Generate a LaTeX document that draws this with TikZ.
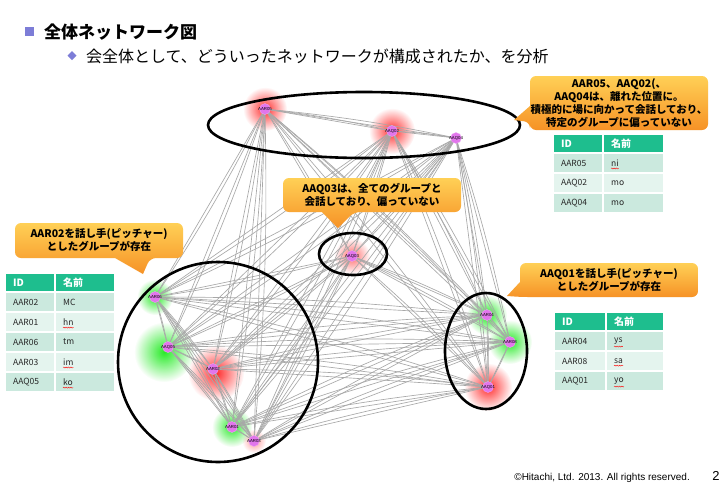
\documentclass[tikz,border=0pt]{standalone}
\usepackage{fontspec}
\newfontfamily\jp{Noto Sans CJK JP}
\newfontfamily\ftr{Liberation Sans}
\usetikzlibrary{fadings,decorations.pathmorphing}
\tikzfading[name=glowfade, inner color=transparent!0, outer color=transparent!100]
\definecolor{pnk}{RGB}{226,118,236}
\definecolor{glr}{RGB}{255,45,45}
\definecolor{glg}{RGB}{40,235,40}
\definecolor{ctop}{RGB}{255,208,86}
\definecolor{cbot}{RGB}{246,146,38}
\definecolor{thd}{RGB}{30,190,142}
\definecolor{rowa}{RGB}{203,233,222}
\definecolor{rowb}{RGB}{228,244,238}
\definecolor{bul}{RGB}{125,125,215}
\definecolor{edgec}{RGB}{168,168,168}
\newcommand{\mktable}[6]{%
\begin{scope}[shift={(#2,#3)}]
  \path[thead] (0,0) rectangle (#4,19);
  \path[thead] (#4,0) rectangle (#4+#5,19);
  \node[hcell] (#1h1) at (8,10) {ID};
  \node[hcell] (#1h2) at (#4+8,10) {名前};
  \foreach \ti/\tid/\tnm/\tcol/\tw in {#6}{
    \path[fill=\tcol, draw=white, line width=1.2pt] (0,{19+20*(\ti-1)}) rectangle (#4,{19+20*\ti});
    \path[fill=\tcol, draw=white, line width=1.2pt] (#4,{19+20*(\ti-1)}) rectangle (#4+#5,{19+20*\ti});
    \node[bcell] (#1a\ti) at (8,{29+20*(\ti-1)}) {\tid};
    \node[bcell] (#1b\ti) at (#4+8,{29+20*(\ti-1)}) {\tnm};
    \ifnum\tw=1 \draw[wavy] ([yshift=-2pt]#1b\ti.south west) -- ([yshift=-2pt]#1b\ti.south east);\fi
  }
\end{scope}}
\begin{document}
\begin{tikzpicture}[x=1pt,y=-1pt,
  edgeline/.style={draw=edgec, line width=0.65pt},
  ring/.style={draw=black, line width=2.6pt},
  pnode/.style={circle, fill=pnk, draw=pnk!60!white, line width=0.3pt, minimum size=11pt, inner sep=0pt,
     label={[font=\ftr\fontsize{4.3}{5}\selectfont, text=black, inner sep=0pt]center:#1}},
  callfill/.style={top color=ctop, bottom color=cbot, rounded corners=6pt},
  calltext/.style={font=\jp\bfseries\fontsize{10.5}{13}\selectfont, align=center, inner sep=0pt},
  thead/.style={fill=thd, draw=white, line width=1.2pt},
  hcell/.style={font=\jp\bfseries\fontsize{10}{12}\selectfont, text=white, anchor=west, inner sep=0pt},
  bcell/.style={font=\jp\fontsize{8.5}{10}\selectfont, text=black!85, anchor=west, inner sep=0pt},
  wavy/.style={draw=red, line width=0.4pt, decorate, decoration={snake, amplitude=0.5pt, segment length=2.4pt}},
  glowr/.style={fill=glr, path fading=glowfade},
  glowg/.style={fill=glg, path fading=glowfade},
]
\useasboundingbox (0,0) rectangle (728,485);
\fill[white] (0,0) rectangle (728,485);

% title
\fill[bul] (25,27) rectangle (34,36);
\node[anchor=west, font=\jp\bfseries\fontsize{17}{20}\selectfont, inner sep=0pt] (title) at (44,32) {全体ネットワーク図};
\fill[bul] (72,51) -- (76.5,55.5) -- (72,60) -- (67.5,55.5) -- cycle;
\node[anchor=west, font=\jp\fontsize{16}{19}\selectfont, inner sep=0pt] (sub) at (86,56) {会全体として、どういったネットワークが構成されたか、を分析};

% positions
\coordinate (R05) at (265,109);
\coordinate (Q02) at (392,131);
\coordinate (Q04) at (456,138);
\coordinate (Q03) at (352,256);
\coordinate (R06) at (155,297);
\coordinate (Q05) at (168,347);
\coordinate (R02) at (213,369);
\coordinate (R01) at (232,427);
\coordinate (R03) at (254,441);
\coordinate (R04) at (487,315);
\coordinate (R08) at (510,342);
\coordinate (Q01) at (488,387);

% glows
\fill[glowr] (R05) circle[radius=22pt];
\fill[glowr] (Q02) circle[radius=23pt];
\fill[glowr, opacity=0.7] (Q03) circle[radius=18pt];
\fill[glowg] (R06) circle[radius=18pt];
\fill[glowg] ([shift={(-4,5)}]Q05) circle[radius=30pt];
\fill[glowr] ([shift={(3,4)}]R02) circle[radius=28pt];
\fill[glowg] (R01) circle[radius=20pt];
\fill[glowr, opacity=0.5] (R03) circle[radius=12pt];
\fill[glowg] (R04) circle[radius=20pt];
\fill[glowg] (R08) circle[radius=22pt];
\fill[glowr] (Q01) circle[radius=24pt];

% edges
\foreach [count=\i] \a in {R05,Q02,Q04,Q03,R06,Q05,R02,R01,R03,R04,R08,Q01}{
  \foreach [count=\j] \b in {R05,Q02,Q04,Q03,R06,Q05,R02,R01,R03,R04,R08,Q01}{
    \ifnum\j>\i
      \draw[edgeline] (\a) -- (\b);
      \draw[edgeline] (\a) to[bend left=3] (\b);
    \fi
  }
}

% rings
\draw[ring] (364,125) ellipse [x radius=156pt, y radius=33pt];
\draw[ring] (353,254) ellipse [x radius=34pt, y radius=21pt];
\draw[ring] (218,362) ellipse [x radius=100pt, y radius=100pt];
\draw[ring] (486,351) ellipse [x radius=41pt, y radius=58pt];

% callouts
\path[callfill] (530,106) -- (530,76) -- (708,76) -- (708,130) -- (530,130) -- (530,122) [sharp corners] -- (514,120) -- cycle;
\node[calltext] (ctr) at (619,103) {AAR05、AAQ02(、\\AAQ04は、離れた位置に。\\積極的に場に向かって会話しており、\\特定のグループに偏っていない};

\path[callfill] (322,212) -- (283,212) -- (283,178) -- (461,178) -- (461,212) -- (354,212) [sharp corners] -- (338,228) -- cycle;
\node[calltext] (cmid) at (372,195) {AAQ03は、全てのグループと\\会話しており、偏っていない};

\path[callfill] (115,258) -- (15,258) -- (15,223) -- (183,223) -- (183,258) -- (150,258) [sharp corners] -- (143,274) -- cycle;
\node[calltext] (cleft) at (99,240.5) {AAR02を話し手(ピッチャー)\\としたグループが存在};

\path[callfill] (520,282) -- (520,263) -- (698,263) -- (698,297) -- (522,297) [sharp corners] -- (507,296) -- cycle;
\node[calltext] (cright) at (609,280) {AAQ01を話し手(ピッチャー)\\としたグループが存在};

% tables
\mktable{T}{553}{134}{50}{61}{1/AAR05/ni/rowa/1, 2/AAQ02/mo/rowb/0, 3/AAQ04/mo/rowa/0}
\mktable{L}{5}{273}{50}{60}{1/AAR02/MC/rowa/0, 2/AAR01/hn/rowb/1, 3/AAR06/tm/rowa/0, 4/AAR03/im/rowb/1, 5/AAQ05/ko/rowa/1}
\mktable{R}{554}{312}{52}{58}{1/AAR04/ys/rowa/1, 2/AAR08/sa/rowb/1, 3/AAQ01/yo/rowa/1}

% nodes
\node[pnode=AAR05] (nR05) at (R05) {};
\node[pnode=AAQ02] (nQ02) at (Q02) {};
\node[pnode=AAQ04] (nQ04) at (Q04) {};
\node[pnode=AAQ03] (nQ03) at (Q03) {};
\node[pnode=AAR06] (nR06) at (R06) {};
\node[pnode=AAQ05] (nQ05) at (Q05) {};
\node[pnode=AAR02] (nR02) at (R02) {};
\node[pnode=AAR01] (nR01) at (R01) {};
\node[pnode=AAR03] (nR03) at (R03) {};
\node[pnode=AAR04] (nR04) at (R04) {};
\node[pnode=AAR08] (nR08) at (R08) {};
\node[pnode=AAQ01] (nQ01) at (Q01) {};

% footer
\node[anchor=east, font=\ftr\fontsize{10}{12}\selectfont, inner sep=0pt] (copy) at (690,478) {©Hitachi, Ltd. 2013. All rights reserved.};
\node[font=\ftr\fontsize{13}{15}\selectfont, inner sep=0pt] (pg) at (716,476) {2};
\end{tikzpicture}
\end{document}
